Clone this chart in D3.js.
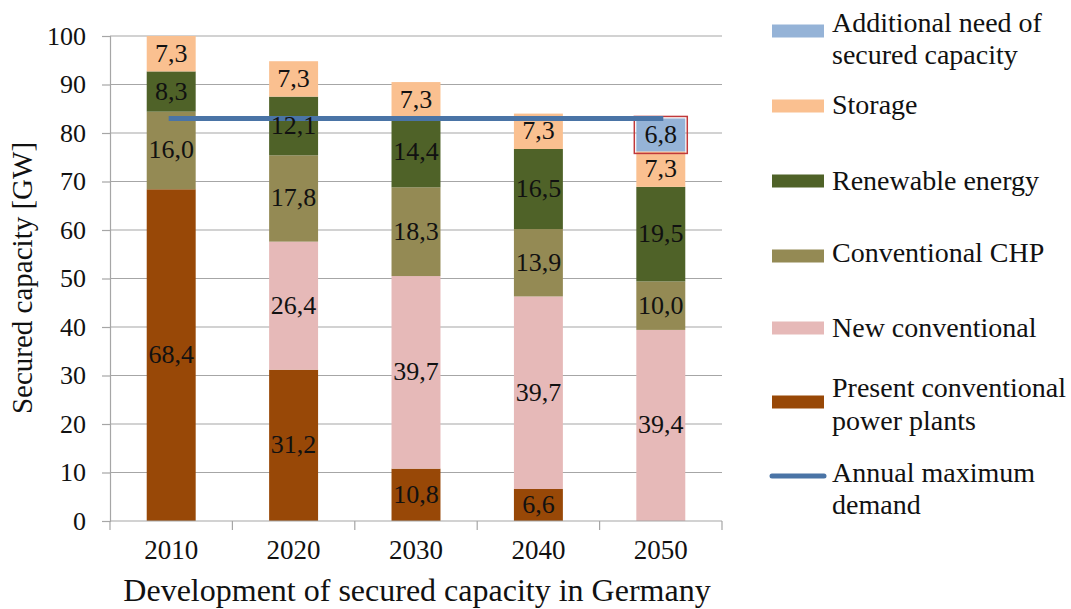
<!DOCTYPE html>
<html><head><meta charset="utf-8">
<script src="https://cdn.jsdelivr.net/npm/d3@7"></script>
<style>body{margin:0;background:#fff}svg{display:block}text{font-family:"Liberation Serif","DejaVu Serif";fill:#111}</style>
</head><body><svg id="c" width="1071" height="609"></svg>
<script>
const years = ["2010","2020","2030","2040","2050"];
const present = [68.4,31.2,10.8,6.6,0];
const newConventional = [0,26.4,39.7,39.7,39.4];
const chp = [16.0,17.8,18.3,13.9,10.0];
const renewable = [8.3,12.1,14.4,16.5,19.5];
const storage = [7.3,7.3,7.3,7.3,7.3];
const additional = [0,0,0,0,6.8];
const demand = [83,83,83,83,83];
const yTicks = [0,10,20,30,40,50,60,70,80,90,100];
const seriesKeys = ["present","newConventional","chp","renewable","storage","additional"];
const seriesNames = {present:["Present conventional","power plants"],newConventional:["New conventional"],chp:["Conventional CHP"],renewable:["Renewable energy"],storage:["Storage"],additional:["Additional need of","secured capacity"]};
const colors = {present:"#984807",newConventional:"#e6b9b8",chp:"#948a54",renewable:"#4f6228",storage:"#fac090",additional:"#95b3d7"};
const demandColor = "#4a74a6";
const FONT = '"Liberation Serif","DejaVu Serif"';

const rows = years.map((y,i)=>({year:y,present:present[i],newConventional:newConventional[i],chp:chp[i],renewable:renewable[i],storage:storage[i],additional:additional[i]}));
const svg = d3.select("#c");
const L=110,R=722,T=36,B=521;
const x = d3.scaleBand().domain(years).range([L,R]).paddingInner(0.6).paddingOuter(0.3);
const y = d3.scaleLinear().domain([0,100]).range([B,T]);

svg.append("g").selectAll("line").data(yTicks.filter(d=>d>0)).join("line")
  .attr("x1",L).attr("x2",R).attr("y1",d=>y(d)).attr("y2",d=>y(d))
  .attr("stroke","#a6a6a6").attr("stroke-width",1.2);
const ya = svg.append("g").attr("transform",`translate(${L},0)`).call(d3.axisLeft(y).tickValues(yTicks).tickSize(8).tickPadding(16));
ya.attr("font-family",FONT);
ya.select(".domain").attr("stroke","#a6a6a6").attr("stroke-width",1.2);
ya.selectAll(".tick line").attr("stroke","#a6a6a6").attr("stroke-width",1.2);
ya.selectAll("text").attr("font-size",26).style("font-family",FONT).attr("fill","#111");

const stack = d3.stack().keys(seriesKeys)(rows);
const gBars = svg.append("g");
stack.forEach(s=>{
  gBars.append("g").selectAll("rect").data(s.filter(d=>d[1]-d[0]>0)).join("rect")
    .attr("x",d=>x(d.data.year)).attr("width",x.bandwidth())
    .attr("y",d=>y(d[1])).attr("height",d=>y(d[0])-y(d[1]))
    .attr("fill",colors[s.key]);
});
const xa = svg.append("g").attr("transform",`translate(0,${B})`);
xa.append("line").attr("x1",L).attr("x2",R).attr("stroke","#a6a6a6").attr("stroke-width",1.2);
const step = x.step(), x0 = x.range()[0];
xa.selectAll(".tk").data(d3.range(years.length+1)).join("line").attr("class","tk")
  .attr("x1",i=>x0+i*step).attr("x2",i=>x0+i*step).attr("y1",0).attr("y2",9)
  .attr("stroke","#a6a6a6").attr("stroke-width",1.2);
xa.selectAll("text").data(years).join("text")
  .attr("x",d=>x(d)+x.bandwidth()/2).attr("y",38).attr("text-anchor","middle").attr("font-size",27).text(d=>d);

const addS = stack.find(s=>s.key==="additional");
svg.append("g").selectAll("rect").data(addS.filter(d=>d[1]-d[0]>0)).join("rect")
  .attr("x",d=>x(d.data.year)-2).attr("width",x.bandwidth()+4)
  .attr("y",d=>y(d[1])-2).attr("height",d=>y(d[0])-y(d[1])+4)
  .attr("fill","none").attr("stroke","#c0393b").attr("stroke-width",1.5);

svg.append("path").datum(years.map((yr,i)=>({yr,v:demand[i]})))
  .attr("d",d3.line().x(d=>x(d.yr)+x.bandwidth()/2).y(d=>y(d.v)))
  .attr("fill","none").attr("stroke",demandColor).attr("stroke-width",5).attr("stroke-linecap","square");

const fmt = v=>v.toFixed(1).replace(".",",");
stack.forEach(s=>{
  svg.append("g").selectAll("text").data(s.filter(d=>d[1]-d[0]>0)).join("text")
    .attr("x",d=>x(d.data.year)+x.bandwidth()/2).attr("y",d=>(y(d[0])+y(d[1]))/2+8)
    .attr("text-anchor","middle").attr("font-size",26).text(d=>fmt(d[1]-d[0]));
});

svg.append("text").attr("transform","translate(32,278) rotate(-90)").attr("text-anchor","middle").attr("font-size",29).text("Secured capacity [GW]");
svg.append("text").attr("x",417).attr("y",601).attr("text-anchor","middle").attr("font-size",32).text("Development of secured capacity in Germany");

const legendItems = [
  {key:"additional",sy:31,base:[32,64]},
  {key:"storage",sy:106,base:[114]},
  {key:"renewable",sy:181,base:[190]},
  {key:"chp",sy:256,base:[262]},
  {key:"newConventional",sy:328,base:[337]},
  {key:"present",sy:402,base:[397,430]},
  {key:"demand",sy:476,base:[482,514]}
];
const lg = svg.append("g");
legendItems.forEach(it=>{
  if(it.key==="demand"){
    lg.append("line").attr("x1",772).attr("x2",824).attr("y1",it.sy).attr("y2",it.sy).attr("stroke",demandColor).attr("stroke-width",5).attr("stroke-linecap","round");
  } else {
    lg.append("rect").attr("x",772).attr("y",it.sy-6.5).attr("width",52).attr("height",13).attr("fill",colors[it.key]);
  }
  const names = it.key==="demand"?["Annual maximum","demand"]:seriesNames[it.key];
  names.forEach((n,j)=>lg.append("text").attr("x",832).attr("y",it.base[j]).attr("font-size",28).text(n));
});
</script></body></html>
